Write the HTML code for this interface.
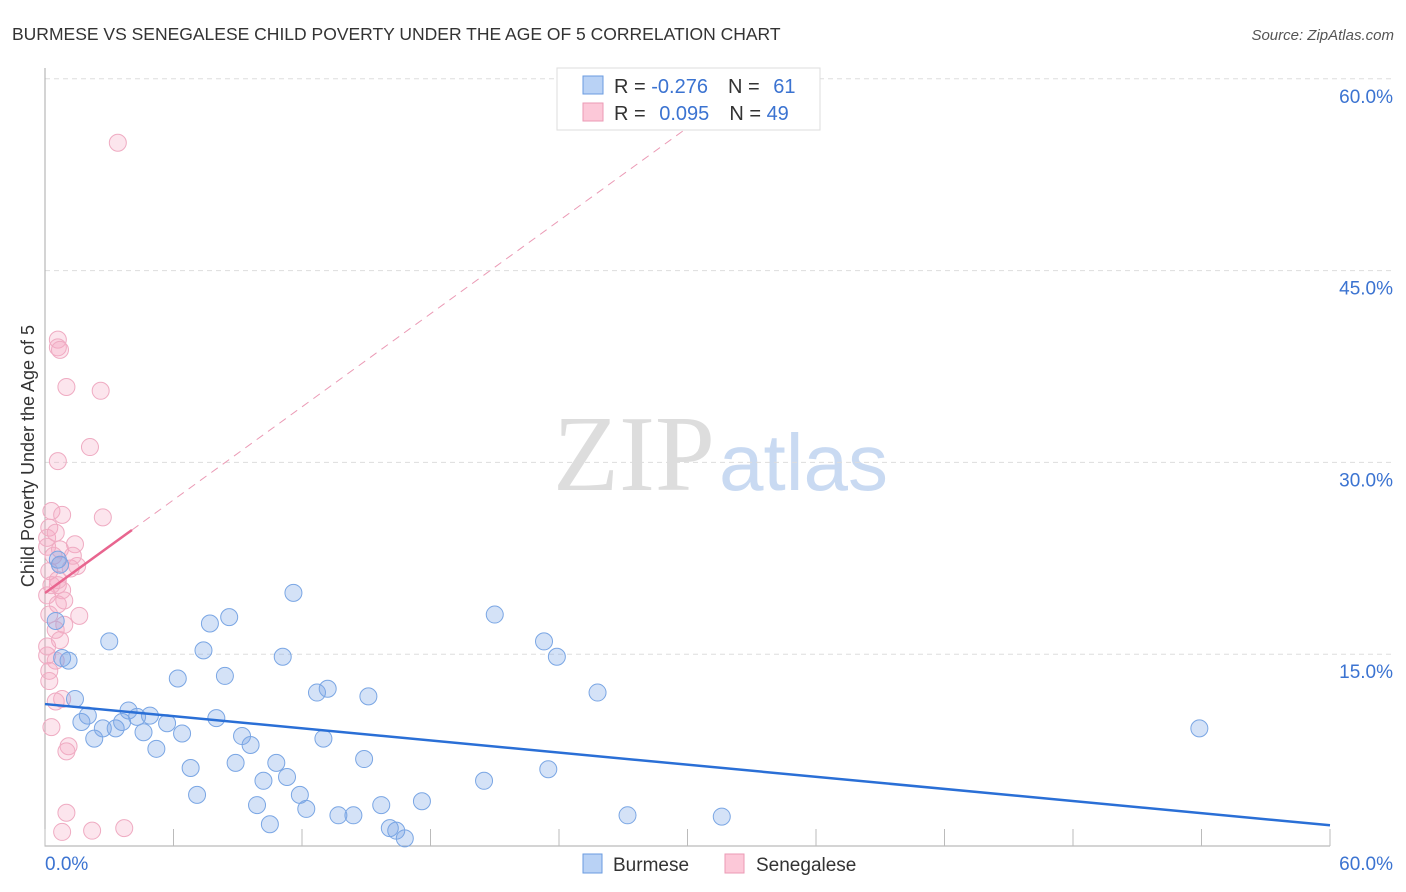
<!DOCTYPE html>
<html><head><meta charset="utf-8"><style>
body{margin:0;background:#fff;font-family:"Liberation Sans",sans-serif}
svg{display:block}
</style></head><body>
<svg id="c" width="1406" height="892" xmlns="http://www.w3.org/2000/svg">
<text x="12" y="40" font-size="17.5" fill="#333">BURMESE VS SENEGALESE CHILD POVERTY UNDER THE AGE OF 5 CORRELATION CHART</text>
<text x="1394" y="40" font-size="15" fill="#555" text-anchor="end" font-style="italic">Source: ZipAtlas.com</text>
<text x="553" y="490" font-size="108" font-family="Liberation Serif,serif"><tspan fill="#ddd">ZIP</tspan><tspan fill="#c9daf2" font-family="Liberation Sans,sans-serif" font-size="80" dx="4">atlas</tspan></text>
<text transform="translate(34,456) rotate(-90)" font-size="18" fill="#333" text-anchor="middle">Child Poverty Under the Age of 5</text>
<g id="grid"></g><g id="axes"></g><g id="marks"></g>
<g>
<rect x="557" y="68" width="263" height="62" fill="#fff" stroke="#ddd"/>
<rect x="583" y="76" width="20" height="18" fill="#b9d2f5" stroke="#6a9be0"/>
<rect x="583" y="103" width="20" height="18" fill="#fcc8d8" stroke="#eb9ab5"/>
<text x="614" y="93" font-size="20" fill="#333">R = <tspan fill="#3b73d1">-0.276</tspan><tspan dx="20">N = </tspan><tspan fill="#3b73d1" dx="8">61</tspan></text>
<text x="614" y="120" font-size="20" fill="#333">R = <tspan fill="#3b73d1" dx="8">0.095</tspan><tspan dx="20">N = </tspan><tspan fill="#3b73d1">49</tspan></text>
</g>
<g>
<rect x="583" y="854" width="19" height="19" fill="#b9d2f5" stroke="#6a9be0"/>
<text x="613" y="871" font-size="19" fill="#333">Burmese</text>
<rect x="725" y="854" width="19" height="19" fill="#fcc8d8" stroke="#eb9ab5"/>
<text x="756" y="871" font-size="19" fill="#333">Senegalese</text>
</g>
</svg>
<script>
const yTicks=[15,30,45,60];
const yTickLabels=["15.0%","30.0%","45.0%","60.0%"];
const xTicks=[0,6,12,18,24,30,36,42,48,54,60];
const burmeseX=[0.6,0.8,1.1,1.4,1.7,2.3,2.0,2.7,3.0,3.3,3.6,3.9,4.3,4.6,4.9,5.2,5.7,6.2,6.4,6.8,7.1,7.4,7.7,8.0,8.4,8.6,8.9,9.2,9.6,9.9,10.2,10.5,10.8,11.1,11.3,11.6,11.9,12.2,12.7,13.0,13.2,13.7,14.4,14.9,15.1,15.7,16.1,16.4,16.8,17.6,20.5,21.0,23.3,23.5,23.9,25.8,27.2,31.6,53.9,0.5,0.7];
const burmeseY=[22.4,14.7,14.5,11.5,9.7,8.4,10.2,9.2,16.0,9.2,9.7,10.6,10.1,8.9,10.2,7.6,9.6,13.1,8.8,6.1,4.0,15.3,17.4,10.0,13.3,17.9,6.5,8.6,7.9,3.2,5.1,1.7,6.5,14.8,5.4,19.8,4.0,2.9,12.0,8.4,12.3,2.4,2.4,6.8,11.7,3.2,1.4,1.2,0.6,3.5,5.1,18.1,16.0,6.0,14.8,12.0,2.4,2.3,9.2,17.6,22.0];
const senegalX=[3.4,0.6,0.6,0.7,1.0,2.6,2.1,0.6,2.7,0.3,0.8,0.2,0.1,1.4,0.7,0.4,1.5,0.2,1.2,0.6,0.8,0.1,1.6,0.2,0.9,0.5,0.7,0.1,0.5,0.8,0.3,1.1,1.0,1.0,0.8,2.2,3.7,0.2,0.6,0.3,0.7,0.1,0.5,0.9,0.1,0.6,1.3,0.2,0.5];
const senegalY=[55.0,39.6,39.0,38.8,35.9,35.6,31.2,30.1,25.7,26.2,25.9,24.9,23.4,23.6,23.2,22.7,21.9,21.5,21.7,20.4,20.0,19.6,18.0,18.1,17.3,16.9,16.1,14.9,14.5,11.5,9.3,7.8,7.4,2.6,1.1,1.2,1.4,13.7,20.8,20.4,22.0,24.1,24.5,19.2,15.6,18.9,22.7,12.9,11.3];
const burmeseTrend=[11.1,-0.158];
const senegalTrend=[19.79,1.213];
const NS="http://www.w3.org/2000/svg";
const X=v=>45+v/6*128.5, Y=v=>846-v/15*191.8;
function mk(p,t,a){const e=document.createElementNS(NS,t);for(const k in a)e.setAttribute(k,a[k]);document.getElementById(p).appendChild(e);return e;}
yTicks.forEach((t,i)=>{
 const l=mk('grid','line',{x1:45,x2:1395,y1:Y(t),y2:Y(t),stroke:'#ddd','stroke-dasharray':'5,4'});
 
 
 const tx=mk('grid','text',{x:1393,y:Y(t)+24,'font-size':19,fill:'#3b73d1','text-anchor':'end'});
 tx.textContent=yTickLabels[i];
 
 
});
const ax=mk('axes','path',{d:'M45,68V846H1330',stroke:'#aaa',fill:'none'});


xTicks.forEach(t=>{const l=mk('axes','line',{x1:X(t),x2:X(t),y1:846,y2:829,stroke:'#bbb'});
 
 });
let a=mk('axes','text',{x:45,y:870,'font-size':19,fill:'#3b73d1'});a.textContent='0.0%';


a=mk('axes','text',{x:1393,y:870,'font-size':19,fill:'#3b73d1','text-anchor':'end'});a.textContent='60.0%';


senegalX.forEach((x,i)=>{const c=mk('marks','circle',{cx:X(x),cy:Y(senegalY[i]),r:8.5,fill:'rgba(246,170,195,0.3)',stroke:'#efabc2','stroke-width':1});
 
 });
burmeseX.forEach((x,i)=>{const c=mk('marks','circle',{cx:X(x),cy:Y(burmeseY[i]),r:8.5,fill:'rgba(120,165,230,0.32)',stroke:'#7aa6e4','stroke-width':1});
 
 });
let t=mk('marks','line',{x1:X(0),y1:Y(burmeseTrend[0]),x2:X(60),y2:Y(burmeseTrend[0]+60*burmeseTrend[1]),stroke:'#2a6fd6','stroke-width':2.5});


const xe=(60-senegalTrend[0])/senegalTrend[1];
t=mk('marks','line',{x1:X(4.06),y1:Y(senegalTrend[0]+4.06*senegalTrend[1]),x2:X(xe),y2:Y(60),stroke:'#eb9ab5','stroke-width':1,'stroke-dasharray':'8,6'});


t=mk('marks','line',{x1:X(0),y1:Y(senegalTrend[0]),x2:X(4.06),y2:Y(senegalTrend[0]+4.06*senegalTrend[1]),stroke:'#e8658f','stroke-width':2.5});


</script>
</body></html>
